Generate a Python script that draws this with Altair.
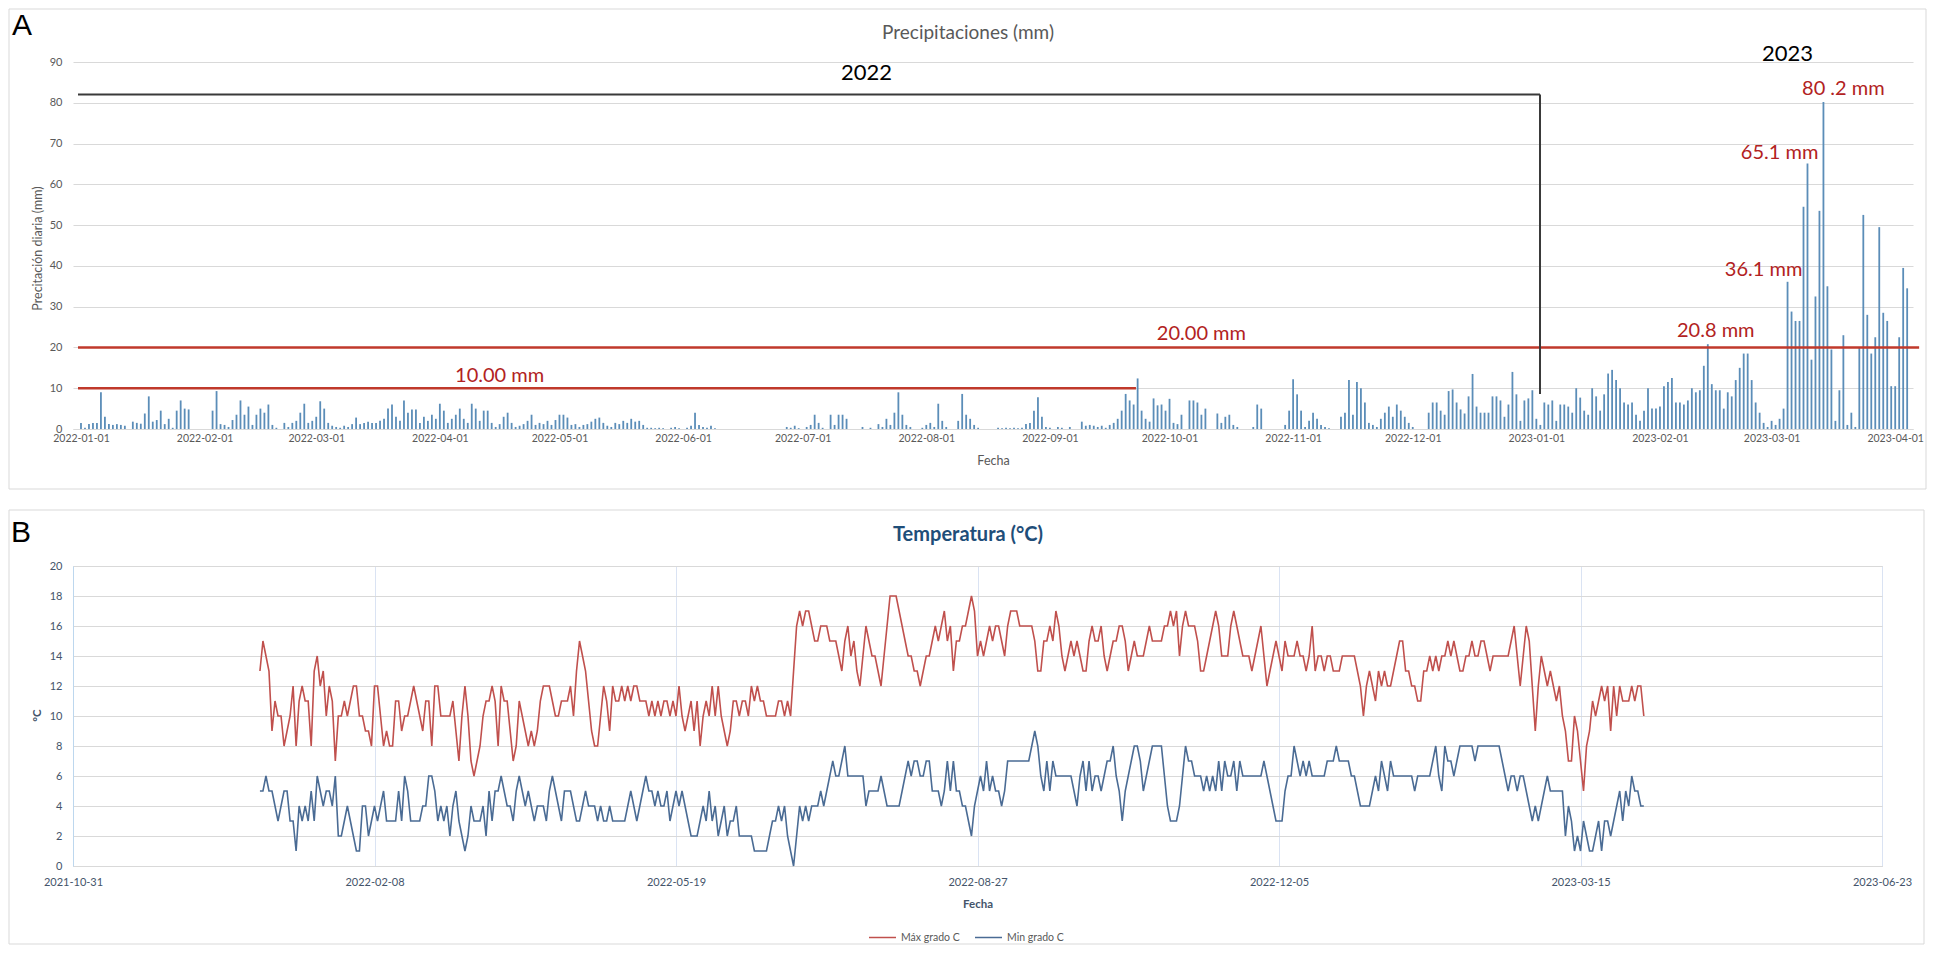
import altair as alt
import pandas as pd

FONT = "Lato"
GRAY = "#595959"
GRID = "#d9d9d9"
BAR = "#5b8db8"
RED_LINE = "#c0392b"
RED_TEXT = "#b22222"
DARK = "#3a3a3a"
TMAX_C = "#c0504d"
TMIN_C = "#4a6b94"
SLATE = "#44546a"
TITLE_B = "#1f4e79"

# ---------------- Panel A : daily precipitation (mm), from 2022-01-01 ----------------
p_2022_01 = [1.5,0.3,1.2,1.5,1.5,9.0,3.0,1.2,1.0,1.2,1.0,0.8,0,1.8,1.5,1.3,3.8,8.0,1.8,2.2,4.5,1.2,2.5,0.3,4.5,7.0,5.0,4.8,0,0,0]
p_2022_02 = [0,0,4.5,9.3,1.2,1.0,0.5,2.2,3.5,7.0,3.5,5.5,1.0,3.5,5.0,4.0,6.0,1.0,0.3,0,1.5,0.5,1.5,2.0,4.0,6.2,1.5,2.0]
p_2022_03 = [3.0,6.8,5.0,1.5,0.8,0.5,0.3,0.8,0.5,1.2,2.8,1.2,1.5,1.8,1.5,1.5,2.0,2.5,5.0,6.0,3.0,2.0,7.0,4.0,4.8,4.8,1.5,3.0,2.0,3.5,2.5]
p_2022_04 = [6.2,4.5,1.5,2.5,3.5,5.0,2.5,1.5,6.2,5.0,2.0,4.5,4.5,1.5,0.5,1.2,3.0,4.0,1.5,0.5,0.8,1.2,2.0,3.5,1.0,1.5,1.2,2.0,1.0,2.2]
p_2022_05 = [3.5,3.5,2.8,1.0,1.2,0.5,1.0,1.2,1.8,2.5,2.8,1.5,0.8,0.5,1.5,1.2,2.0,1.5,2.5,1.8,2.0,1.0,0.3,0.3,0.2,0.3,0.2,0,0.3,0.5,0.2]
p_2022_06 = [0,0.3,0.8,4.0,1.0,0.5,0.3,0.8,0.2,0,0,0,0,0,0,0,0,0,0,0,0,0,0,0,0,0,0.5,0.3,0.8,0.2]
p_2022_07 = [0,0.5,1.0,3.5,1.5,0.3,0,3.5,1.0,3.5,3.5,2.5,0,0,0,0.5,0,0.3,0,1.2,0.5,2.5,1.0,4.0,9.0,3.5,1.0,0.5,0,0,0.3]
p_2022_08 = [1.0,1.5,0.5,6.2,2.0,0.5,0,0,2.0,8.6,3.5,2.5,1.0,0.3,0,0,0,0,0.3,0.2,0.3,0.2,0.3,0.2,0.3,1.2,1.5,4.5,7.8,3.0,0.5]
p_2022_09 = [0.3,0,0.5,0.3,0,0.5,0,0,1.8,0.8,1.0,0.8,0.5,0.8,0.3,1.0,1.5,2.5,4.5,8.6,7.0,6.0,12.4,4.5,2.5,1.8,7.5,5.8,6.0,4.5]
p_2022_10 = [7.4,1.5,1.2,3.5,0,7.0,7.0,6.5,3.5,5.0,0,0,3.8,1.5,3.0,3.5,1.0,0.5,0,0,0,0.5,6.0,5.0,0,0,0,0,0,1.0,4.5]
p_2022_11 = [12.2,8.5,4.5,0.5,2.0,4.0,2.5,1.0,0.5,0.2,0,0,3.0,4.0,12.0,3.5,11.5,10.0,6.5,1.5,1.0,0.5,2.5,4.0,5.5,3.0,6.0,4.5,3.0,1.5]
p_2022_12 = [0.5,0,0,0,4.0,6.5,6.5,4.5,3.5,9.3,9.7,6.5,4.8,3.8,8.0,13.5,5.5,4.0,4.0,4.0,8.0,8.0,7.0,3.0,6.0,14.0,8.5,2.0,7.0,7.5,9.5]
p_2023_01 = [2.5,1.0,6.5,6.0,7.0,2.0,6.0,6.0,5.5,4.0,10.0,7.7,4.5,3.5,10.0,8.0,4.5,8.5,13.6,14.5,12.0,10.0,6.5,6.0,6.5,3.5,2.0,4.5,10.0,5.0,5.0]
p_2023_02 = [5.5,10.5,11.5,12.5,6.5,6.5,6.0,7.0,10.0,9.0,9.5,15.5,20.8,11.0,9.5,9.5,5.0,9.0,8.0,12.0,15.0,18.5,18.5,12.0,6.5,4.0,1.5,0.5]
p_2023_03 = [2.0,1.0,2.5,5.0,36.1,28.8,26.5,26.5,54.5,65.1,17.0,32.5,53.5,80.2,35.0,19.5,2.0,9.5,23.0,1.0,4.0,0.5,20.0,52.5,28.0,18.5,22.5,49.5,28.5,26.5,10.5]
p_2023_04 = [10.5,22.5,39.5,34.5]

precip = (p_2022_01 + p_2022_02 + p_2022_03 + p_2022_04 + p_2022_05 + p_2022_06 +
          p_2022_07 + p_2022_08 + p_2022_09 + p_2022_10 + p_2022_11 + p_2022_12 +
          p_2023_01 + p_2023_02 + p_2023_03 + p_2023_04)

# ---------------- Panel B : daily temperature (°C), from 2022-01-01 ----------------
tmax_2022_01 = [13,15,14,13,9,11,10,10,8,9,10,12,8,11,12,11,11,8,13,14,12,13,10,12,11,7,10,10,11,10,11]
tmax_2022_02 = [12,12,10,10,9,9,8,12,12,10,8,9,8,8,11,11,9,10,10,11,12,11,10,9,11,11,8,12]
tmax_2022_03 = [12,10,10,10,10,11,9,7,10,12,10,7,6,7,8,10,11,11,12,11,8,12,11,11,9,7,8,11,10,9,8]
tmax_2022_04 = [9,8,9,11,12,12,12,11,10,10,11,11,11,12,10,13,15,14,13,11,9,8,8,10,12,11,9,12,11,11]
tmax_2022_05 = [12,11,12,11,12,12,11,11,11,10,11,10,11,10,11,11,10,11,10,12,10,9,10,11,9,11,8,10,11,10,12]
tmax_2022_06 = [10,12,10,9,8,9,11,11,10,11,11,10,12,11,12,11,11,10,10,10,10,11,11,10,11,10,13,16,17,16]
tmax_2022_07 = [17,17,16,15,15,16,16,16,15,15,15,14,13,15,16,14,15,13,12,14,16,15,14,14,13,12,14,16,18,18,18]
tmax_2022_08 = [17,16,15,14,14,13,13,12,13,14,14,15,16,15,16,17,15,16,13,15,15,16,16,17,18,17,14,15,14,15,16]
tmax_2022_09 = [15,16,16,15,14,16,17,17,17,16,16,16,16,16,15,13,13,15,15,16,15,17,16,14,13,14,15,14,15,14]
tmax_2022_10 = [13,13,15,16,15,15,16,14,13,14,15,15,16,16,15,13,14,15,14,14,14,15,16,15,15,15,15,16,16,17,16]
tmax_2022_11 = [17,14,16,17,16,16,16,15,13,13,14,15,16,17,16,14,14,14,16,17,16,15,14,14,14,13,14,15,16,14]
tmax_2022_12 = [12,13,14,15,14,13,15,14,14,14,15,14,14,13,14,16,13,14,14,13,14,14,13,13,13,14,14,14,14,14,13]
tmax_2023_01 = [12,10,12,13,12,11,13,12,13,12,12,13,14,15,15,13,13,12,12,11,11,13,13,14,13,14,13,14,14,15,14]
tmax_2023_02 = [15,14,13,13,14,14,15,14,14,15,15,14,13,14,14,14,14,14,14,15,16,14,12,14,16,15,12,9]
tmax_2023_03 = [12,14,13,12,13,12,11,12,10,9,7,7,10,9,7,5,8,9,11,10,11,12,11,12,9,12,10,12,11,11,11]
tmax_2023_04 = [12,11,12,12,10]

tmin_2022_01 = [5,5,6,5,5,4,3,4,5,5,3,3,1,4,3,4,3,5,3,6,5,4,5,5,4,6,2,2,3,4,3]
tmin_2022_02 = [2,1,1,4,4,2,3,4,3,4,5,3,3,3,3,5,3,6,5,3,3,3,3,4,4,6,6,5]
tmin_2022_03 = [3,4,3,4,2,4,5,3,2,1,2,4,3,3,3,4,2,5,3,5,5,6,5,4,4,3,5,6,5,4,5]
tmin_2022_04 = [4,3,4,4,4,3,5,6,5,4,3,5,5,5,4,3,3,4,5,4,4,4,3,4,3,3,4,3,3,3]
tmin_2022_05 = [3,3,4,5,4,3,4,5,6,5,5,4,5,4,4,5,3,4,5,4,5,4,3,2,2,2,3,4,3,5,3]
tmin_2022_06 = [4,2,3,4,2,3,3,4,2,2,2,2,2,1,1,1,1,1,2,3,3,4,3,4,2,1,0,2,4,3]
tmin_2022_07 = [4,3,4,4,4,5,4,5,6,7,6,6,7,8,6,6,6,6,6,6,4,5,5,5,5,6,5,4,4,4,4]
tmin_2022_08 = [4,5,6,7,6,7,7,6,6,7,7,5,5,5,4,5,7,5,7,5,5,4,4,3,2,4,5,6,5,7,5]
tmin_2022_09 = [6,5,5,4,5,7,7,7,7,7,7,7,7,8,9,8,6,5,7,5,7,6,6,6,6,6,6,5,4,6]
tmin_2022_10 = [7,5,7,5,6,6,5,6,7,7,8,6,5,3,5,6,7,8,8,7,5,6,7,8,8,8,8,6,4,3,3]
tmin_2022_11 = [3,4,6,8,7,7,6,6,6,5,6,5,6,5,7,5,7,6,6,7,5,7,6,6,6,6,6,6,6,7]
tmin_2022_12 = [6,5,4,3,3,3,5,6,6,8,7,6,7,6,7,6,6,6,6,6,7,7,7,8,7,7,7,7,6,6,5]
tmin_2023_01 = [4,4,4,4,5,6,5,7,6,5,7,6,6,6,6,6,6,6,5,6,6,6,6,6,7,8,6,5,8,7,7]
tmin_2023_02 = [6,7,8,8,8,8,8,7,8,8,8,8,8,8,8,8,7,6,5,6,6,5,6,6,5,4,3,4]
tmin_2023_03 = [3,4,5,6,5,5,5,5,5,2,4,3,1,2,1,3,2,1,1,2,3,1,3,3,2,3,4,5,3,5,4]
tmin_2023_04 = [6,5,5,4,4]

tmax = (tmax_2022_01 + tmax_2022_02 + tmax_2022_03 + tmax_2022_04 + tmax_2022_05 + tmax_2022_06 +
        tmax_2022_07 + tmax_2022_08 + tmax_2022_09 + tmax_2022_10 + tmax_2022_11 + tmax_2022_12 +
        tmax_2023_01 + tmax_2023_02 + tmax_2023_03 + tmax_2023_04)
tmin = (tmin_2022_01 + tmin_2022_02 + tmin_2022_03 + tmin_2022_04 + tmin_2022_05 + tmin_2022_06 +
        tmin_2022_07 + tmin_2022_08 + tmin_2022_09 + tmin_2022_10 + tmin_2022_11 + tmin_2022_12 +
        tmin_2023_01 + tmin_2023_02 + tmin_2023_03 + tmin_2023_04)

series_names = ["Máx grado C", "Min grado C"]

# annotations
ann_labels = ["10.00 mm", "20.00 mm", "20.8 mm", "36.1 mm", "65.1 mm", "80 .2 mm"]
ann_dates = ["2022-04-16", "2022-10-09", "2023-02-15", "2023-02-27", "2023-03-03", "2023-03-19"]
ann_vals = [13.0, 23.3, 24.0, 39.0, 67.6, 83.3]

year_labels = ["2022", "2023"]
year_dates = ["2022-07-17", "2023-03-05"]
year_vals = [87.3, 91.9]

thr_start = ["2021-12-31T06:00:00Z", "2021-12-31T06:00:00Z"]
thr_end = ["2022-09-22T14:00:00Z", "2023-04-07T00:00:00Z"]
thr_vals = [10, 20]

bracket_start = "2021-12-31T06:00:00Z"
bracket_end = "2023-01-01T22:00:00Z"
bracket_top = 82
bracket_bottom = 8.6

months_A = ["2022-01-01", "2022-02-01", "2022-03-01", "2022-04-01", "2022-05-01", "2022-06-01",
            "2022-07-01", "2022-08-01", "2022-09-01", "2022-10-01", "2022-11-01", "2022-12-01",
            "2023-01-01", "2023-02-01", "2023-03-01", "2023-04-01"]
ticks_B = ["2021-10-31", "2022-02-08", "2022-05-19", "2022-08-27", "2022-12-05", "2023-03-15", "2023-06-23"]


def dt(s, h=0):
    y, m, d = (int(v) for v in s.split("-"))
    return alt.DateTime(year=y, month=m, date=d, hours=h, utc=True)


LABEL_EXPR = "utcFormat(datum.value, '%Y-%m-%d')"

# ---------------- data frames ----------------
dates_p = pd.date_range("2022-01-01", periods=len(precip), freq="D").strftime("%Y-%m-%d").tolist()
df_p = pd.DataFrame({"fecha": dates_p, "mm": precip})

dates_t = pd.date_range("2022-01-01", periods=len(tmax), freq="D").strftime("%Y-%m-%d").tolist()
df_t = pd.concat([
    pd.DataFrame({"fecha": dates_t, "temp": tmax, "serie": series_names[0]}),
    pd.DataFrame({"fecha": dates_t, "temp": tmin, "serie": series_names[1]}),
])

df_ann = pd.DataFrame({"fecha": ann_dates, "mm": ann_vals, "label": ann_labels})
df_year = pd.DataFrame({"fecha": year_dates, "mm": year_vals, "label": year_labels})
df_thr = pd.DataFrame({"fecha": thr_start, "fin": thr_end, "mm": thr_vals})
df_brh = pd.DataFrame({"fecha": [bracket_start], "fin": [bracket_end], "mm": [bracket_top]})
df_brv = pd.DataFrame({"fecha": [bracket_end], "mm": [bracket_bottom], "mm2": [bracket_top]})
one = pd.DataFrame({"k": [0]})

# ---------------- Panel A ----------------
W_A, H_A = 1840, 367
xA_scale = alt.Scale(type="utc", domain=[dt("2021-12-31", 6), dt("2023-04-04", 5)])
yA_scale = alt.Scale(domain=[0, 90])

axA_x = alt.Axis(
    values=[dt(s) for s in months_A], labelExpr=LABEL_EXPR,
    title="Fecha", titleX=W_A / 2, titleY=31, titleAlign="center", titleBaseline="middle",
    titleFont=FONT, titleFontSize=12.5, titleFontWeight="normal", titleColor=GRAY,
    labelFont=FONT, labelFontSize=10.5, labelColor=GRAY, labelPadding=4,
    labelFlush=False, labelOverlap=False, ticks=False, grid=False,
    domainColor=GRID, domainWidth=1)
axA_y = alt.Axis(
    values=list(range(0, 91, 10)), title="Precitación diaria (mm)",
    titleX=-36, titleY=186, titleAlign="center", titleBaseline="middle",
    titleFont=FONT, titleFontSize=12.5, titleFontWeight="normal", titleColor=GRAY,
    labelFont=FONT, labelFontSize=11, labelColor=GRAY, labelPadding=11,
    ticks=False, domain=False, grid=True, gridColor=GRID, gridWidth=1)

XA = alt.X("fecha:T", scale=xA_scale, axis=axA_x)
YA = alt.Y("mm:Q", scale=yA_scale, axis=axA_y)

boxA = alt.Chart(one).mark_rect(fillOpacity=0, stroke=GRID, strokeWidth=1).encode(
    x=alt.value(-64), x2=alt.value(1853), y=alt.value(-53), y2=alt.value(427))
letterA = alt.Chart(one).mark_text(text="A", font="Liberation Sans", fontSize=30, color="black",
                                   align="center", baseline="middle").encode(
    x=alt.value(-51), y=alt.value(-36))
titleA = alt.Chart(one).mark_text(text="Precipitaciones (mm)", font=FONT, fontSize=19, color=GRAY,
                                  align="center", baseline="middle").encode(
    x=alt.value(895), y=alt.value(-29))

bars = alt.Chart(df_p).mark_bar(size=1.8, color=BAR).encode(x=XA, y=YA)

thr = alt.Chart(df_thr).mark_rule(color=RED_LINE, strokeWidth=2.5).encode(
    x=XA, x2="fin:T", y=YA)

brh = alt.Chart(df_brh).mark_rule(color=DARK, strokeWidth=2).encode(
    x=XA, x2="fin:T", y=YA)

brv = alt.Chart(df_brv).mark_rule(color=DARK, strokeWidth=2).encode(
    x=XA, y=YA, y2="mm2:Q")

ann = alt.Chart(df_ann).mark_text(font=FONT, fontSize=20, color=RED_TEXT,
                                  align="center", baseline="middle").encode(
    x=XA, y=YA, text="label:N")

years = alt.Chart(df_year).mark_text(font=FONT, fontSize=22, color="black",
                                     align="center", baseline="middle").encode(
    x=XA, y=YA, text="label:N")

panelA = alt.layer(boxA, letterA, titleA, bars, thr, brh, brv, ann, years).properties(
    width=W_A, height=H_A, view=alt.ViewBackground(stroke="transparent"))

# ---------------- Panel B ----------------
W_B, H_B = 1809, 300
xB_scale = alt.Scale(type="utc", domain=[dt("2021-10-31"), dt("2023-06-23")])
yB_scale = alt.Scale(domain=[0, 20])

boxB = alt.Chart(one).mark_rect(fillOpacity=0, stroke=GRID, strokeWidth=1).encode(
    x=alt.value(-64), x2=alt.value(1851), y=alt.value(-56), y2=alt.value(378))
letterB = alt.Chart(one).mark_text(text="B", font="Liberation Sans", fontSize=30, color="black",
                                   align="center", baseline="middle").encode(
    x=alt.value(-52), y=alt.value(-33))
titleB = alt.Chart(one).mark_text(text="Temperatura (°C)", font=FONT, fontSize=20, fontWeight="bold",
                                  color=TITLE_B, align="center", baseline="middle").encode(
    x=alt.value(895), y=alt.value(-31))

lines = alt.Chart(df_t).mark_line(strokeWidth=1.6).encode(
    x=alt.X("fecha:T", scale=xB_scale, axis=alt.Axis(
        values=[dt(s) for s in ticks_B], labelExpr=LABEL_EXPR,
        title="Fecha", titleX=W_B / 2, titleY=38, titleAlign="center", titleBaseline="middle",
        titleFont=FONT, titleFontSize=11.5, titleFontWeight="bold", titleColor=SLATE,
        labelFont=FONT, labelFontSize=11, labelColor=SLATE, labelPadding=10,
        labelFlush=False, labelOverlap=False, ticks=False,
        grid=True, gridColor="#dae3f3", domainColor=GRID)),
    y=alt.Y("temp:Q", scale=yB_scale, axis=alt.Axis(
        values=list(range(0, 21, 2)), title="°C",
        titleX=-36, titleY=149, titleAlign="center", titleBaseline="middle",
        titleFont=FONT, titleFontSize=11.5, titleFontWeight="bold", titleColor=SLATE,
        labelFont=FONT, labelFontSize=11, labelColor=SLATE, labelPadding=11,
        ticks=False, domainColor="#bdd7ee", grid=True, gridColor=GRID)),
    color=alt.Color("serie:N", scale=alt.Scale(domain=series_names, range=[TMAX_C, TMIN_C]),
                    legend=alt.Legend(title=None, orient="none", legendX=795, legendY=357,
                                      direction="horizontal", symbolType="stroke", symbolSize=729,
                                      symbolStrokeWidth=1.5, labelFont=FONT, labelFontSize=10.5,
                                      labelColor=GRAY, columnPadding=12, labelOffset=4, padding=0)),
)

panelB = alt.layer(boxB, letterB, titleB, lines).properties(
    width=W_B, height=H_B, view=alt.ViewBackground(stroke=GRID, strokeWidth=1))

chart = (alt.vconcat(panelA, panelB, spacing=19, padding=0)
         .resolve_legend(color="independent")
         .resolve_scale(color="independent")
         .configure(font=FONT))

chart.save("out.html", embed_options={"renderer": "svg", "actions": False})
